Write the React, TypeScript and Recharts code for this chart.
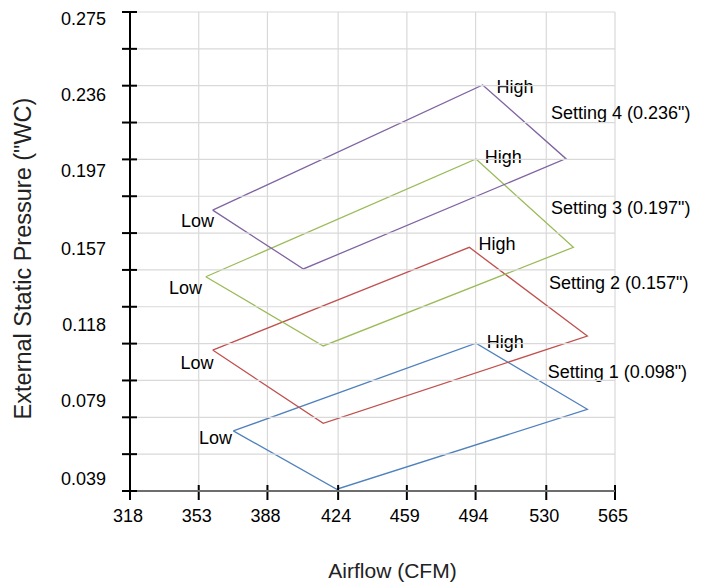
import React from 'react';
import { LineChart, Line, XAxis, YAxis, CartesianGrid, ReferenceDot } from 'recharts';

const FONT = '"Liberation Sans", Arial, sans-serif';
const CHART_W = 709;
const CHART_H = 582;
const MARGIN = { top: 12, right: 94, bottom: 90, left: 128 };
const Y_AXIS_W = 1;
// plot width: chart minus margins minus the two thin left axes
const PLOT_W = CHART_W - MARGIN.left - MARGIN.right - 2 * Y_AXIS_W;

const airflowTicks = [318, 353, 388, 424, 459, 494, 530, 565];
const pressureTicks = [0.039, 0.079, 0.118, 0.157, 0.197, 0.236, 0.275];
const gridSteps = [0, 1, 2, 3, 4, 5, 6, 7, 8, 9, 10, 11, 12, 13];
const pressureDomain = [0.032484, 0.278232];

// each setting is a closed outline: Low -> bottom -> right -> High -> Low
const setting1 = [
  { airflow: 370.6, pressure: 0.0633 },
  { airflow: 423.3, pressure: 0.0334 },
  { airflow: 550.9, pressure: 0.0744 },
  { airflow: 494.2, pressure: 0.1083 },
  { airflow: 370.6, pressure: 0.0633 },
];
const setting2 = [
  { airflow: 360.1, pressure: 0.1048 },
  { airflow: 416.4, pressure: 0.0672 },
  { airflow: 550.9, pressure: 0.112 },
  { airflow: 490.8, pressure: 0.1575 },
  { airflow: 360.1, pressure: 0.1048 },
];
const setting3 = [
  { airflow: 356.6, pressure: 0.1424 },
  { airflow: 416.4, pressure: 0.1069 },
  { airflow: 543.8, pressure: 0.1575 },
  { airflow: 494.2, pressure: 0.2028 },
  { airflow: 356.6, pressure: 0.1424 },
];
const setting4 = [
  { airflow: 360.1, pressure: 0.1766 },
  { airflow: 406.3, pressure: 0.1464 },
  { airflow: 540.0, pressure: 0.203 },
  { airflow: 497.6, pressure: 0.2408 },
  { airflow: 360.1, pressure: 0.1766 },
];

const series = [
  { name: 'Setting 1', data: setting1, color: '#4f81bd' },
  { name: 'Setting 2', data: setting2, color: '#c0504d' },
  { name: 'Setting 3', data: setting3, color: '#9bbb59' },
  { name: 'Setting 4', data: setting4, color: '#8064a2' },
];

const notes = [
  { text: 'Low', airflow: 361.5, pressure: 0.0599, anchor: 'middle' },
  { text: 'Low', airflow: 352.1, pressure: 0.0984, anchor: 'middle' },
  { text: 'Low', airflow: 346.3, pressure: 0.1366, anchor: 'middle' },
  { text: 'Low', airflow: 352.4, pressure: 0.171, anchor: 'middle' },
  { text: 'High', airflow: 509.1, pressure: 0.1091, anchor: 'middle' },
  { text: 'High', airflow: 504.9, pressure: 0.1592, anchor: 'middle' },
  { text: 'High', airflow: 508.1, pressure: 0.204, anchor: 'middle' },
  { text: 'High', airflow: 514.1, pressure: 0.2399, anchor: 'middle' },
  { text: 'Setting 1 (0.098")', airflow: 530.7, pressure: 0.0937, anchor: 'start' },
  { text: 'Setting 2 (0.157")', airflow: 531.4, pressure: 0.1393, anchor: 'start' },
  { text: 'Setting 3 (0.197")', airflow: 532.4, pressure: 0.1775, anchor: 'start' },
  { text: 'Setting 4 (0.236")', airflow: 532.4, pressure: 0.2263, anchor: 'start' },
];

// tick mark crossing the axis, plus the light horizontal grid row across the plot
const GridTick = ({ x, y }: any) => (
  <g>
    <line x1={x} x2={x + PLOT_W} y1={y} y2={y} stroke="#d9d9d9" strokeWidth={1.2} />
    <line x1={x - 8} x2={x + 7} y1={y} y2={y} stroke="#000" strokeWidth={2} />
  </g>
);

const AirflowTick = ({ x, y, payload }: any) => (
  <g>
    <line x1={x} x2={x} y1={y - 6} y2={y + 9} stroke="#000" strokeWidth={2} />
    <text
      x={x - 2}
      y={y + 25}
      textAnchor="middle"
      dominantBaseline="central"
      fontSize={18}
      fontFamily={FONT}
      fill="#000"
    >
      {payload.value}
    </text>
  </g>
);

const XTitle = ({ viewBox }: any) => (
  <text
    x={viewBox.x + viewBox.width / 2 + 20}
    y={viewBox.y + 79}
    textAnchor="middle"
    dominantBaseline="central"
    fontSize={21}
    fontFamily={FONT}
    fill="#222"
  >
    Airflow (CFM)
  </text>
);

const YTitle = ({ viewBox }: any) => {
  const cx = viewBox.x + viewBox.width - 106;
  const cy = viewBox.y + viewBox.height / 2 + 7;
  return (
    <text
      x={cx}
      y={cy}
      transform={`rotate(-90 ${cx} ${cy})`}
      textAnchor="middle"
      dominantBaseline="central"
      fontSize={23.5}
      fontFamily={FONT}
      fill="#222"
    >
      External Static Pressure ("WC)
    </text>
  );
};

export default function App() {
  return (
    <div style={{ position: 'absolute', left: 0, top: 0, width: CHART_W, height: CHART_H, background: '#fff' }}>
      <LineChart width={CHART_W} height={CHART_H} margin={MARGIN}>
        <CartesianGrid stroke="#d9d9d9" strokeWidth={1.2} horizontal={false} />
        <XAxis
          type="number"
          dataKey="airflow"
          domain={[318, 565]}
          ticks={airflowTicks}
          interval={0}
          allowDataOverflow
          height={1}
          tickSize={0}
          tickMargin={0}
          tickLine={false}
          axisLine={{ stroke: '#000', strokeWidth: 2 }}
          tick={<AirflowTick />}
          label={<XTitle />}
        />
        {/* tick-mark axis in step units; labels sit on the value axis below */}
        <YAxis
          type="number"
          domain={[0, 13]}
          ticks={gridSteps}
          interval={0}
          allowDataOverflow
          width={Y_AXIS_W}
          tickSize={0}
          tickMargin={0}
          tickLine={false}
          axisLine={{ stroke: '#000', strokeWidth: 2 }}
          tick={<GridTick />}
        />
        <YAxis
          yAxisId="val"
          type="number"
          domain={pressureDomain}
          ticks={pressureTicks}
          interval={0}
          allowDataOverflow
          width={Y_AXIS_W}
          tickSize={0}
          tickMargin={23}
          tickLine={false}
          axisLine={false}
          tick={{ fontSize: 18, fill: '#000', fontFamily: FONT }}
          label={<YTitle />}
        />
        {series.map((s) => (
          <Line
            key={s.name}
            yAxisId="val"
            data={s.data}
            dataKey="pressure"
            name={s.name}
            stroke={s.color}
            strokeWidth={1.3}
            dot={false}
            activeDot={false}
            isAnimationActive={false}
          />
        ))}
        {notes.map((n, i) => (
          <ReferenceDot
            key={i}
            yAxisId="val"
            x={n.airflow}
            y={n.pressure}
            r={0}
            ifOverflow="visible"
            shape={(p: any) => (
              <text
                x={p.cx}
                y={p.cy}
                textAnchor={n.anchor as any}
                dominantBaseline="central"
                fontSize={18}
                fontFamily={FONT}
                fill="#000"
              >
                {n.text}
              </text>
            )}
          />
        ))}
      </LineChart>
    </div>
  );
}
